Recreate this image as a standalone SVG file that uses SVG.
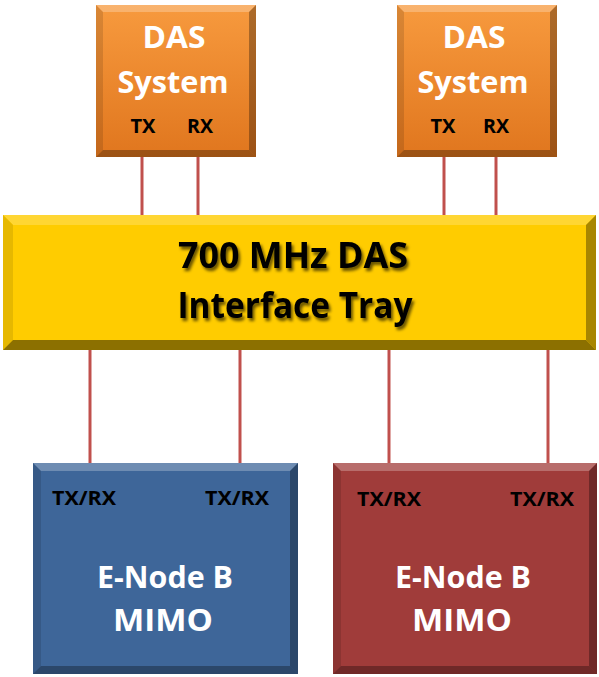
<svg xmlns="http://www.w3.org/2000/svg" width="599" height="677" viewBox="0 0 599 677">
<defs>
<style>
.lbl{font-family:"Open Sans","Liberation Sans",sans-serif;font-weight:bold;}
.wt{fill:#FFFFFF;font-size:31px;}
.bk{fill:#000000;font-size:20px;}
.tr{fill:#000000;font-size:35px;}
.conn{stroke:#C0504D;stroke-width:3;fill:none;}
.hl{fill:#FFFFFF;opacity:0.25;}
.sh{fill:#000000;opacity:0.3;}
.shL{fill:#000000;opacity:0.12;}
</style>
<linearGradient id="gOr" x1="0" y1="0" x2="0" y2="1">
<stop offset="0" stop-color="#F79A3E"/>
<stop offset="1" stop-color="#E0761E"/>
</linearGradient>
<filter id="ts" x="-10%" y="-10%" width="130%" height="140%">
<feGaussianBlur in="SourceAlpha" stdDeviation="1.5"/>
<feOffset dx="2" dy="3" result="b"/>
<feFlood flood-color="#000" flood-opacity="0.6"/>
<feComposite in2="b" operator="in"/>
<feMerge><feMergeNode/><feMergeNode in="SourceGraphic"/></feMerge>
</filter>
</defs>
<rect width="599" height="677" fill="#FFFFFF"/>
<g id="connectors">
<line class="conn" x1="142" y1="157" x2="142" y2="215"/>
<line class="conn" x1="198" y1="157" x2="198" y2="215"/>
<line class="conn" x1="444" y1="157" x2="444" y2="215"/>
<line class="conn" x1="496" y1="157" x2="496" y2="215"/>
<line class="conn" x1="90" y1="350" x2="90" y2="463"/>
<line class="conn" x1="240" y1="350" x2="240" y2="463"/>
<line class="conn" x1="389" y1="350" x2="389" y2="463"/>
<line class="conn" x1="548" y1="350" x2="548" y2="463"/>
</g>
<g id="das1">
<rect x="96" y="5" width="160" height="152" fill="url(#gOr)"/>
<polygon class="hl" points="96,5 256,5 249,12 103,12"/>
<polygon class="shL" points="96,5 103,12 103,150 96,157"/>
<polygon class="sh" points="256,5 256,157 249,150 249,12"/>
<polygon class="sh" points="96,157 256,157 249,150 103,150"/>
<text class="lbl wt" x="174" y="48" text-anchor="middle" textLength="63" lengthAdjust="spacingAndGlyphs">DAS</text>
<text class="lbl wt" x="173" y="93" text-anchor="middle" textLength="111" lengthAdjust="spacingAndGlyphs">System</text>
<text class="lbl bk" x="143" y="133" text-anchor="middle" textLength="25" lengthAdjust="spacingAndGlyphs">TX</text>
<text class="lbl bk" x="200" y="133" text-anchor="middle" textLength="26" lengthAdjust="spacingAndGlyphs">RX</text>
</g>
<g id="das2">
<rect x="397" y="5" width="160" height="152" fill="url(#gOr)"/>
<polygon class="hl" points="397,5 557,5 550,12 404,12"/>
<polygon class="shL" points="397,5 404,12 404,150 397,157"/>
<polygon class="sh" points="557,5 557,157 550,150 550,12"/>
<polygon class="sh" points="397,157 557,157 550,150 404,150"/>
<text class="lbl wt" x="474" y="48" text-anchor="middle" textLength="63" lengthAdjust="spacingAndGlyphs">DAS</text>
<text class="lbl wt" x="473" y="93" text-anchor="middle" textLength="111" lengthAdjust="spacingAndGlyphs">System</text>
<text class="lbl bk" x="443" y="133" text-anchor="middle" textLength="25" lengthAdjust="spacingAndGlyphs">TX</text>
<text class="lbl bk" x="496" y="133" text-anchor="middle" textLength="26" lengthAdjust="spacingAndGlyphs">RX</text>
</g>
<g id="tray">
<rect x="3" y="215" width="593" height="135" fill="#FFCC00"/>
<polygon fill="#FFD633" points="3,215 596,215 586,225 13,225"/>
<polygon fill="#E6B800" points="3,215 13,225 13,340 3,350"/>
<polygon fill="#A88600" points="596,215 596,350 586,340 586,225"/>
<polygon fill="#8C7000" points="3,350 596,350 586,340 13,340"/>
<text class="lbl tr" x="293" y="268" text-anchor="middle" filter="url(#ts)" textLength="230" lengthAdjust="spacingAndGlyphs">700 MHz DAS</text>
<text class="lbl tr" x="295" y="318" text-anchor="middle" filter="url(#ts)" textLength="235" lengthAdjust="spacingAndGlyphs">Interface Tray</text>
</g>
<g id="enb1">
<rect x="33" y="463" width="265" height="211" fill="#3E6699"/>
<polygon class="hl" points="33,463 298,463 290,471 41,471"/>
<polygon class="shL" points="33,463 41,471 41,666 33,674"/>
<polygon class="sh" points="298,463 298,674 290,666 290,471"/>
<polygon class="sh" points="33,674 298,674 290,666 41,666"/>
<text class="lbl bk" x="84" y="505" text-anchor="middle" textLength="64" lengthAdjust="spacingAndGlyphs">TX/RX</text>
<text class="lbl bk" x="237" y="505" text-anchor="middle" textLength="64" lengthAdjust="spacingAndGlyphs">TX/RX</text>
<text class="lbl wt" x="165" y="588" text-anchor="middle" textLength="136" lengthAdjust="spacingAndGlyphs">E-Node B</text>
<text class="lbl wt" x="163" y="631" text-anchor="middle" textLength="100" lengthAdjust="spacingAndGlyphs">MIMO</text>
</g>
<g id="enb2">
<rect x="333" y="463" width="264" height="211" fill="#A03C3A"/>
<polygon class="hl" points="333,463 597,463 589,471 341,471"/>
<polygon class="shL" points="333,463 341,471 341,666 333,674"/>
<polygon class="sh" points="597,463 597,674 589,666 589,471"/>
<polygon class="sh" points="333,674 597,674 589,666 341,666"/>
<text class="lbl bk" x="389" y="506" text-anchor="middle" textLength="64" lengthAdjust="spacingAndGlyphs">TX/RX</text>
<text class="lbl bk" x="542" y="506" text-anchor="middle" textLength="64" lengthAdjust="spacingAndGlyphs">TX/RX</text>
<text class="lbl wt" x="463" y="588" text-anchor="middle" textLength="136" lengthAdjust="spacingAndGlyphs">E-Node B</text>
<text class="lbl wt" x="462" y="631" text-anchor="middle" textLength="100" lengthAdjust="spacingAndGlyphs">MIMO</text>
</g>
</svg>
